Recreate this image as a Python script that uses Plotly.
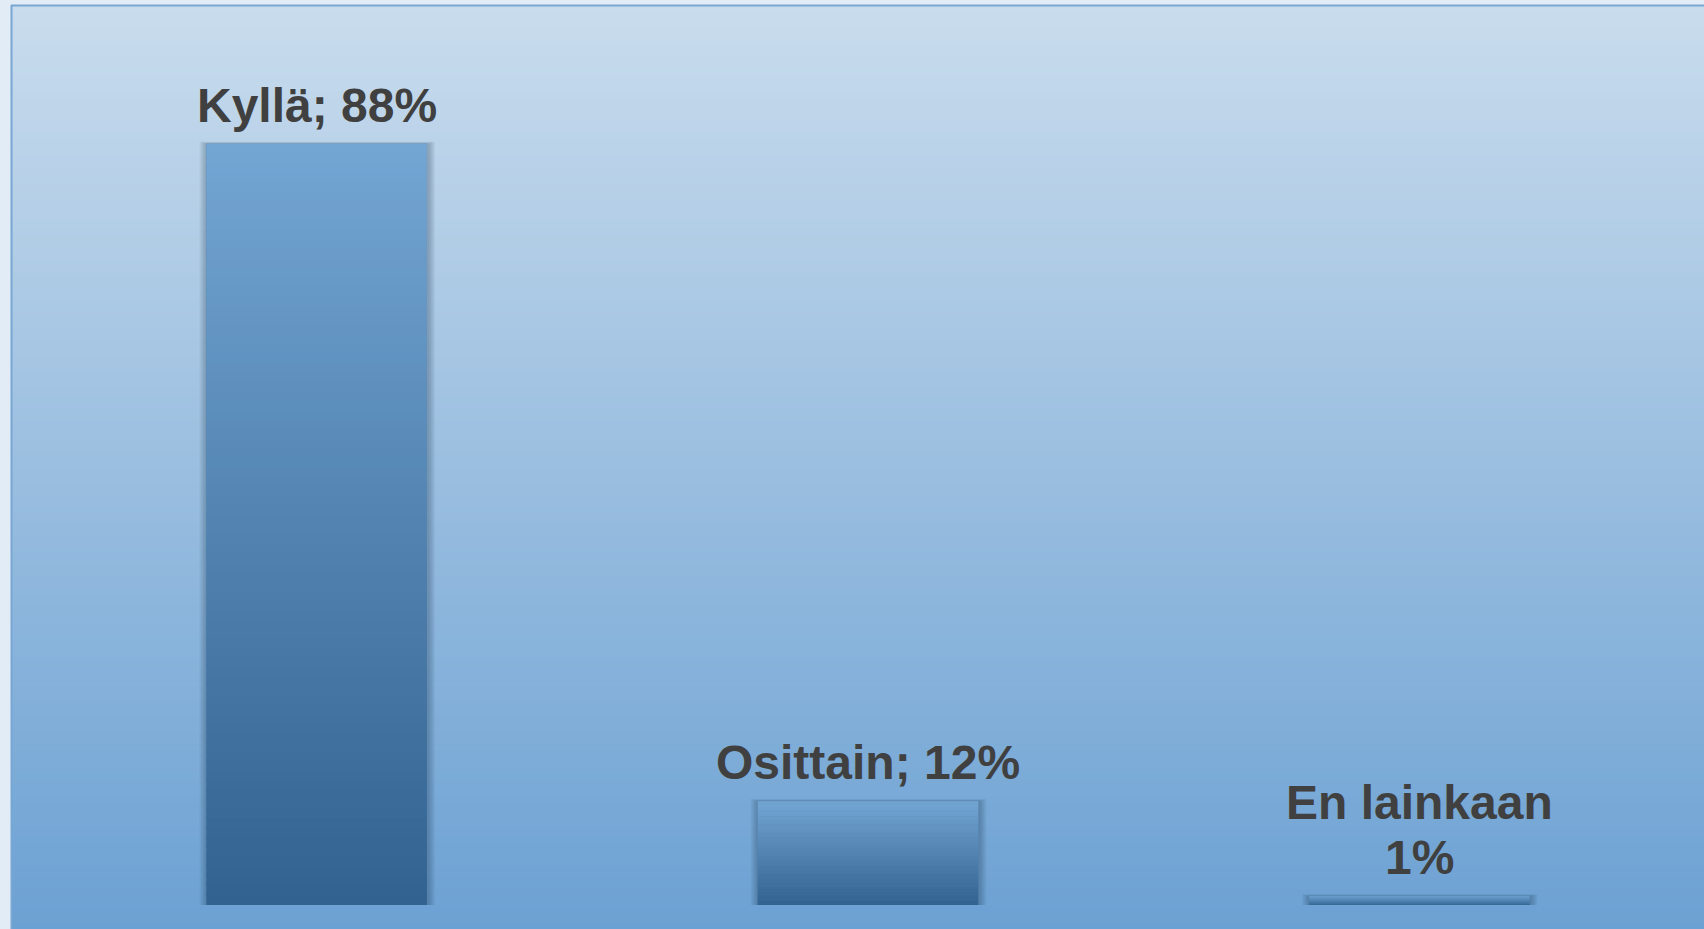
import plotly.graph_objects as go

# ---- data ----
categories = ["Kyllä", "Osittain", "En lainkaan"]
values = [88, 12, 1]
labels = ["Kyllä; 88%", "Osittain; 12%", "En lainkaan\n1%"]

W, H = 1704, 929

def hex2rgb(h):
    h = h.lstrip("#")
    return tuple(int(h[i:i + 2], 16) for i in (0, 2, 4))

def lerp(c1, c2, t):
    a, b = hex2rgb(c1), hex2rgb(c2)
    return "rgb(%d,%d,%d)" % tuple(round(a[i] + (b[i] - a[i]) * t) for i in range(3))

fig = go.Figure()
fig.add_trace(go.Bar(
    x=categories, y=values, width=0.4,
    marker=dict(color="#4f82b2", line=dict(width=0)),
    hoverinfo="skip", showlegend=False,
))

shapes = []
# background gradient (chart area)
bg_top, bg_bot = "#c9dced", "#6ca1d3"
x_left = 11 / W
y_top_px = 5
n = 160
for k in range(n):
    p0 = y_top_px + (H - y_top_px) * k / n
    p1 = y_top_px + (H - y_top_px) * (k + 1) / n + 0.8
    shapes.append(dict(type="rect", xref="paper", yref="paper", layer="below",
                       x0=x_left, x1=1, y0=1 - p1 / H, y1=1 - p0 / H,
                       fillcolor=lerp(bg_top, bg_bot, (k + 0.5) / n), line=dict(width=0)))
# border lines
shapes.append(dict(type="line", xref="paper", yref="paper", layer="below",
                   x0=x_left, x1=1, y0=1 - 5.5 / H, y1=1 - 5.5 / H,
                   line=dict(color="#79a6d2", width=2)))
shapes.append(dict(type="line", xref="paper", yref="paper", layer="below",
                   x0=11.5 / W, x1=11.5 / W, y0=0, y1=1 - 5 / H,
                   line=dict(color="#79a6d2", width=2)))

# axis geometry
x_dom = [41 / W, 1695 / W]
y_dom = [(H - 905) / H, (H - 40) / H]
px_x = 3.0 / (x_dom[1] - x_dom[0]) / W   # data units per pixel (x)
px_y = 100.0 / ((y_dom[1] - y_dom[0]) * H)  # data units per pixel (y)

# soft shadows (below bars)
for i, v in enumerate(values):
    for s in range(1, 8):
        shapes.append(dict(type="rect", xref="x", yref="y", layer="below",
                           x0=i - 0.2 - s * px_x, x1=i + 0.2 + (s + 1) * px_x,
                           y0=-(s + 1) * px_y, y1=v + (s * 0.3) * px_y,
                           fillcolor="rgba(20,40,70,0.045)", line=dict(width=0)))

# bar gradients (above bar trace)
bar_top, bar_bot = "#74a6d3", "#32628f"
m = 80
for i, v in enumerate(values):
    for k in range(m):
        y0 = v * k / m
        y1 = v * (k + 1) / m + (v / m) * 0.3
        if y1 > v:
            y1 = v
        shapes.append(dict(type="rect", xref="x", yref="y", layer="above",
                           x0=i - 0.2, x1=i + 0.2, y0=y0, y1=y1,
                           fillcolor=lerp(bar_bot, bar_top, (k + 0.5) / m),
                           line=dict(width=0)))

annotations = []
for i, (v, lab) in enumerate(zip(values, labels)):
    lines = lab.split("\n")
    for j, line in enumerate(reversed(lines)):
        annotations.append(dict(x=i, y=v, xref="x", yref="y", text=line,
                                showarrow=False, yanchor="bottom", xanchor="center",
                                yshift=10 + 55 * j,
                                font=dict(family="Liberation Sans, Arial, sans-serif",
                                          size=48, color="#404040", weight="bold")))

fig.update_layout(
    width=W, height=H,
    margin=dict(l=0, r=0, t=0, b=0),
    paper_bgcolor="#e2ecf6",
    plot_bgcolor="rgba(0,0,0,0)",
    shapes=shapes,
    annotations=annotations,
    bargap=0.6,
    xaxis=dict(domain=x_dom, range=[-0.5, 2.5], showticklabels=False,
               showgrid=False, zeroline=False, showline=False, fixedrange=True),
    yaxis=dict(domain=y_dom, range=[0, 100], showticklabels=False,
               showgrid=False, zeroline=False, showline=False, fixedrange=True),
    showlegend=False,
)

fig.write_html(
    "out.html",
    config={"displayModeBar": False},
    post_script="document.body.style.margin='0';document.body.style.overflow='hidden';",
)
